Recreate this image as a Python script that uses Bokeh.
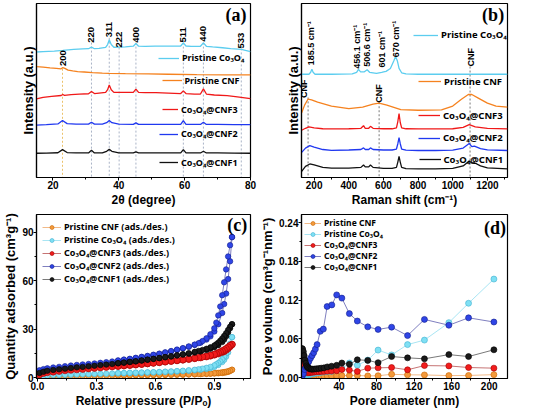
from bokeh.plotting import figure
from bokeh.layouts import gridplot
from bokeh.models import (Range1d, FixedTicker, NumeralTickFormatter, Legend,
                          LegendItem, Label)
from bokeh.core.properties import value
from bokeh.embed import file_html
from bokeh.resources import INLINE

FONT = "Liberation Sans"
LFONT = "Noto Sans"

# ------------------------------------------------------------------ data (a) XRD
xrd_co3o4_x = [15, 17, 20.4, 23, 26.3, 29, 30.8, 31.7, 32.6, 34, 36, 36.6, 37.1, 37.7, 38.5, 40.1, 42,
               44.4, 45.2, 46, 48, 51, 53.8, 56, 58.8, 59.6, 60.4, 62, 64.8, 65.7, 66.6, 68.5, 71.5,
               74, 77.2, 80]
xrd_co3o4_y = [129.3, 129.7, 130.3, 131, 132, 132.5, 132.7, 134.3, 132.7, 133, 134, 137, 142, 137,
               134.2, 134.3, 134.7, 135.3, 138, 135.3, 135.2, 135.3, 135.3, 135.3, 135.5, 138.7, 135.5,
               135.2, 135.2, 138.7, 135.2, 134.5, 133.7, 132.8, 132, 129.7]
xrd_cnf_x = [15, 17, 19.1, 21, 22.5, 23, 23.6, 24.6, 26, 27.5, 29.5, 32, 35, 37.1, 42, 48.9, 55, 63.7, 72, 80]
xrd_cnf_y = [114.3, 113.8, 113, 112.5, 112, 113.2, 112.5, 110.7, 109.8, 109.2, 108.7, 108, 107.5,
             107.3, 107, 106.7, 106.4, 106, 105.8, 105.7]
xrd_cnf3_x = [15, 17, 19.6, 22.5, 23, 23.5, 25.5, 28, 30.8, 31.7, 32.6, 34, 36, 36.6, 37.1, 37.7, 38.5,
              40.1, 42, 44.4, 45.2, 46, 48, 51.3, 55, 58.8, 59.6, 60.4, 63, 64.8, 65.7, 66.6, 69, 72.9, 76, 80]
xrd_cnf3_y = [81, 82.5, 83.5, 84.5, 85.5, 84.7, 85.5, 86, 86.3, 88.7, 86.5, 87, 87.7, 90.5, 95.3, 90.5,
              87.7, 87.7, 87.7, 87.7, 91, 87.7, 87.5, 87.5, 87, 86.5, 89.3, 86.5, 86, 86, 91.3, 86, 85,
              84.3, 83, 81.3]
xrd_cnf12_x = [15, 18, 21.5, 22.9, 24.3, 27, 30.8, 31.7, 32.6, 35, 36.3, 37.1, 37.9, 40, 44.4, 45.2, 46,
               50, 55, 58.8, 59.6, 60.4, 63, 64.8, 65.7, 66.6, 70, 75, 80]
xrd_cnf2_y = [54, 54.5, 55.2, 58.7, 55.5, 55, 55, 57, 55, 55, 56.5, 58.7, 56.5, 55, 54.7, 56.3, 54.7,
              54.7, 54.7, 54.7, 58.7, 54.7, 54.7, 54.7, 57, 54.7, 54.7, 54.5, 54.5]
xrd_cnf1_y = [25, 25.2, 25.5, 28.7, 25.7, 25.3, 25.3, 28, 25.3, 25.3, 27, 29, 27, 25.3, 25.3, 26.3,
              25.3, 25.3, 25.3, 25.3, 28.7, 25.3, 25.3, 25.3, 27, 25.3, 25.3, 25.2, 25]
xrd_hkl = ["200", "220", "311", "222", "400", "511", "440", "533"]
xrd_pos = [22.9, 31.7, 37.1, 40.1, 45.2, 59.6, 65.7, 77.2]
xrd_label_y = [123, 147, 152.5, 142, 147, 147, 148, 141]
xrd_line_top = [112, 139, 144, 134, 139, 139, 139, 133]

# ------------------------------------------------------------------ data (b) Raman
ram_co3o4_x = [127, 170, 180, 187, 194, 205, 300, 420, 445, 456, 468, 490, 506, 520, 560, 590, 601,
               615, 640, 660, 670, 680, 690, 705, 730, 800, 1000, 1316]
ram_co3o4_y = [107, 107, 109, 112.3, 109, 107, 107, 107.3, 109, 112, 109.5, 109.5, 111.7, 109, 108,
               109, 109.5, 110, 113, 121, 125.3, 121, 113, 108.5, 107.3, 107, 107, 107]
ram_cnf_x = [128, 145, 165, 185, 220, 300, 400, 480, 540, 575, 620, 700, 800, 935, 1000, 1050, 1090,
             1110, 1150, 1200, 1250, 1316]
ram_cnf_y = [67, 75, 81.3, 80.5, 78, 74, 71.3, 73, 76, 77, 75, 70.3, 69.7, 70, 74, 81, 86, 86, 82, 77, 74, 73]
ram_cnf3_x = [128, 150, 170, 200, 250, 300, 400, 470, 485, 495, 515, 525, 540, 600, 650, 675, 683, 690,
              697, 705, 730, 800, 900, 1000, 1060, 1095, 1130, 1200, 1316]
ram_cnf3_y = [49, 51, 52.5, 51.5, 50.5, 50.3, 50.5, 51, 53.7, 51, 51, 53, 51, 50.5, 50.5, 51.5, 58,
              66.3, 57, 51.5, 50.5, 50.3, 50.3, 50.5, 52, 54.7, 52.5, 50.8, 50.3]
ram_cnf12_x = [128, 150, 175, 200, 250, 300, 400, 470, 485, 495, 515, 525, 540, 600, 650, 675, 683, 690,
               697, 705, 730, 800, 900, 1000, 1060, 1095, 1110, 1125, 1160, 1200, 1316]
ram_cnf2_y = [26, 30.5, 33, 31.5, 29, 28.2, 28.5, 29, 30.7, 29, 29, 30.7, 29, 28.5, 28.5, 29.5, 35,
              41.3, 35, 29.5, 28.3, 28, 28, 28.3, 30.5, 35.3, 32, 32.5, 30, 28.6, 28]
ram_cnf1_y = [6.3, 11.5, 14, 13, 10.5, 9.8, 9.8, 10.5, 13, 11, 11, 13, 10.5, 9.5, 9.5, 10.5, 16, 22,
              16, 10.5, 9.2, 9, 9, 9.5, 12, 17, 15, 15.3, 12, 10, 9]
ram_labels = ["185.5 cm\u207b\u00b9", "456.1 cm\u207b\u00b9", "506.6 cm\u207b\u00b9", "601 cm\u207b\u00b9",
              "670 cm\u207b\u00b9", "CNF", "CNF", "CNF"]
ram_label_x = [182, 446, 506, 590, 670, 1105, 143, 575]
ram_label_y = [139, 135.5, 137.5, 133, 143.5, 124.5, 92, 87]
ram_cnf_line_x = [165, 575, 1100]
ram_cnf_line_top = [83, 78, 115]

# ------------------------------------------------------------------ data (c) isotherms
p_ads = [0.01, 0.03, 0.05, 0.08, 0.11, 0.14, 0.17, 0.20, 0.23, 0.26, 0.29, 0.32, 0.35, 0.38, 0.41,
         0.44, 0.47, 0.50, 0.53, 0.56, 0.59, 0.62, 0.65, 0.68, 0.71, 0.74, 0.77, 0.80, 0.83, 0.86,
         0.88, 0.90, 0.92, 0.94, 0.95, 0.96, 0.97, 0.98, 0.99]
p_des = [0.99, 0.98, 0.97, 0.96, 0.95, 0.94, 0.93, 0.92, 0.91, 0.90, 0.88, 0.86, 0.84, 0.82, 0.80,
         0.77, 0.74, 0.71, 0.68, 0.65, 0.62, 0.59, 0.56, 0.53, 0.50, 0.47, 0.44, 0.41]
q_cnf_ads = [0.2, 0.4, 0.5, 0.6, 0.7, 0.75, 0.8, 0.85, 0.9, 0.95, 1.0, 1.05, 1.1, 1.15, 1.2, 1.25, 1.3,
             1.35, 1.4, 1.45, 1.5, 1.55, 1.6, 1.7, 1.75, 1.8, 1.9, 2.0, 2.1, 2.2, 2.3, 2.45, 2.6, 2.8,
             3.0, 3.2, 3.5, 4.0, 4.8]
q_cnf_des = [4.8, 4.3, 3.9, 3.6, 3.4, 3.2, 3.0, 2.9, 2.8, 2.7, 2.5, 2.4, 2.3, 2.2, 2.1, 2.0, 1.9, 1.85,
             1.8, 1.75, 1.7, 1.65, 1.6, 1.55, 1.5, 1.45, 1.4, 1.35]
q_co3o4_ads = [0.8, 1.1, 1.3, 1.5, 1.6, 1.7, 1.8, 1.9, 2.0, 2.1, 2.2, 2.3, 2.4, 2.5, 2.6, 2.7, 2.8, 2.9,
               3.0, 3.1, 3.2, 3.3, 3.5, 3.6, 3.8, 4.0, 4.2, 4.5, 4.8, 5.3, 5.8, 6.6, 7.8, 9.6, 11.0,
               13.0, 15.5, 19.0, 25.0]
q_co3o4_des = [25.0, 21.0, 17.5, 15.0, 13.0, 11.3, 10.0, 9.0, 8.2, 7.5, 6.6, 6.0, 5.5, 5.1, 4.8, 4.5,
               4.2, 4.0, 3.8, 3.6, 3.4, 3.3, 3.2, 3.1, 3.0, 2.9, 2.8, 2.7]
q_cnf3_ads = [1.8, 2.6, 3.1, 3.5, 3.9, 4.3, 4.6, 4.9, 5.2, 5.5, 5.8, 6.1, 6.4, 6.7, 7.0, 7.3, 7.6, 7.9,
              8.3, 8.6, 9.0, 9.3, 9.7, 10.1, 10.5, 10.9, 11.3, 11.8, 12.3, 12.9, 13.4, 14.0, 14.7,
              15.6, 16.2, 17.0, 18.0, 19.2, 20.5]
q_cnf3_des = [20.5, 19.8, 18.8, 17.9, 17.1, 16.4, 15.8, 15.3, 14.8, 14.4, 13.8, 13.2, 12.8, 12.4, 12.0,
              11.5, 11.0, 10.6, 10.2, 9.8, 9.4, 9.0, 8.7, 8.3, 8.0, 7.7, 7.4, 7.1]
q_cnf2_ads = [4.5, 5.2, 5.7, 6.2, 6.6, 7.0, 7.4, 7.8, 8.1, 8.4, 8.7, 9.1, 9.5, 9.9, 10.4, 10.9, 11.4,
              12.0, 12.6, 13.2, 13.9, 14.6, 15.3, 16.1, 17.0, 18.0, 19.0, 20.2, 21.6, 23.5, 25.5, 28.5,
              33.0, 40.0, 45.5, 52.0, 61.0, 72.0, 87.0]
q_cnf2_des = [87.0, 82.0, 75.0, 67.0, 59.0, 51.0, 44.0, 38.5, 34.0, 30.5, 26.8, 24.3, 22.6, 21.3, 20.4,
              19.3, 18.2, 17.3, 16.4, 15.6, 14.8, 14.1, 13.4, 12.8, 12.2, 11.6, 11.1, 10.6]
q_cnf1_ads = [2.8, 3.6, 4.2, 4.7, 5.1, 5.5, 5.9, 6.3, 6.6, 7.0, 7.3, 7.7, 8.0, 8.4, 8.8, 9.2, 9.6, 10.0,
              10.5, 11.0, 11.5, 12.0, 12.5, 13.0, 13.6, 14.2, 14.8, 15.5, 16.2, 17.1, 17.8, 18.8, 20.0,
              22.0, 23.5, 25.5, 28.0, 30.5, 33.0]
q_cnf1_des = [33.0, 31.5, 29.5, 27.5, 25.8, 24.2, 22.8, 21.6, 20.6, 19.8, 18.7, 17.8, 17.1, 16.5, 15.9,
              15.1, 14.4, 13.8, 13.2, 12.7, 12.1, 11.6, 11.1, 10.6, 10.1, 9.7, 9.3, 8.9]

# ------------------------------------------------------------------ data (d) pore size distribution
d_pore = [0.5, 1.2, 2.0, 2.8, 3.6, 4.5, 5.5, 6.5, 7.7, 9.0, 10.5, 12.0, 14.0, 16.0, 18.5, 21.0, 24.0,
          27.5, 32.0, 37.5, 43.0, 51.0, 59.5, 70.6, 81.6, 96.0, 113.0, 131.0, 157.0, 178.0, 205.0]
v_cnf = [0.001, 0.001, 0.0012, 0.0014, 0.0015, 0.0016, 0.0017, 0.0018, 0.0019, 0.002, 0.002, 0.002,
         0.0021, 0.0022, 0.0022, 0.0023, 0.0024, 0.0025, 0.0026, 0.0028, 0.003, 0.003, 0.0032, 0.0025,
         0.0028, 0.005, 0.0042, 0.004, 0.003, 0.0032, 0.0045]
v_co3o4 = [0.0005, 0.001, 0.0015, 0.002, 0.0025, 0.003, 0.0035, 0.004, 0.0045, 0.005, 0.0055, 0.006,
           0.0065, 0.007, 0.0075, 0.008, 0.0085, 0.009, 0.0095, 0.0115, 0.014, 0.0225, 0.019, 0.027,
           0.0425, 0.035, 0.051, 0.058, 0.085, 0.115, 0.1525]
v_cnf3 = [0.033, 0.031, 0.026, 0.020, 0.014, 0.010, 0.0085, 0.0075, 0.0075, 0.0078, 0.008, 0.0082,
          0.0085, 0.0088, 0.009, 0.0092, 0.0095, 0.0098, 0.010, 0.0105, 0.0125, 0.0115, 0.0095, 0.0145,
          0.015, 0.0155, 0.012, 0.0185, 0.018, 0.0155, 0.0145]
v_cnf1 = [0.045, 0.044, 0.040, 0.034, 0.027, 0.022, 0.018, 0.016, 0.0145, 0.0135, 0.013, 0.013, 0.0132,
          0.0135, 0.014, 0.0145, 0.015, 0.0165, 0.0175, 0.019, 0.0225, 0.0205, 0.0275, 0.0265, 0.023,
          0.0325, 0.0305, 0.029, 0.0355, 0.0325, 0.043]
d_pore_cnf2 = [0.8, 2.0, 3.3, 4.7, 6.3, 7.9, 9.6, 11.3, 13.0, 14.8, 16.6, 20.0, 23.3, 27.3, 32.3, 37.5,
               43.0, 51.0, 59.5, 70.6, 81.6, 96.0, 113.0, 131.0, 157.0, 178.0, 205.0]
v_cnf2 = [0.002, 0.006, 0.0125, 0.016, 0.020, 0.025, 0.030, 0.034, 0.0385, 0.044, 0.051, 0.0715, 0.075,
          0.110, 0.1125, 0.128, 0.123, 0.099, 0.0875, 0.0785, 0.0745, 0.078, 0.065, 0.090, 0.081,
          0.0925, 0.086]

names = ["Pristine Co\u2083O\u2084", "Pristine CNF", "Co\u2083O\u2084@CNF3", "Co\u2083O\u2084@CNF2",
         "Co\u2083O\u2084@CNF1"]

C_CYAN, C_ORANGE, C_RED, C_BLUE, C_BLACK = "#5ccdef", "#f5821f", "#f01818", "#2038f0", "#111111"


def base_fig(w, h, bl, br, bt, bb, xr, yr, xlabel, ylabel):
    p = figure(width=w, height=h, x_range=Range1d(*xr), y_range=Range1d(*yr),
               output_backend="svg", toolbar_location=None,
               min_border_left=bl, min_border_right=br, min_border_top=bt, min_border_bottom=bb)
    p.xgrid.visible = False
    p.ygrid.visible = False
    p.outline_line_color = "black"
    p.outline_line_width = 1.2
    p.outline_line_alpha = 1.0
    p.background_fill_color = "white"
    p.border_fill_color = "white"
    for ax, lab, fs in ((p.xaxis[0], xlabel, "12px"), (p.yaxis[0], ylabel, "13px")):
        ax.axis_label = lab
        ax.axis_line_color = "black"
        ax.axis_line_width = 1.2
        ax.major_tick_in = 0
        ax.major_tick_out = 3
        ax.minor_tick_in = 0
        ax.minor_tick_out = 2
        ax.major_tick_line_color = "black"
        ax.minor_tick_line_color = "black"
        ax.major_label_text_font = FONT
        ax.major_label_text_font_style = "bold"
        ax.major_label_text_font_size = "10px"
        ax.major_label_text_color = "black"
        ax.axis_label_text_font = FONT
        ax.axis_label_text_font_style = "bold"
        ax.axis_label_text_font_size = fs
        ax.axis_label_text_color = "black"
        ax.major_label_standoff = 0
        ax.axis_label_standoff = 1
    return p


def item_legend(p, label, rends, x, y, gw, fs):
    lg = Legend(items=[LegendItem(label=value(label), renderers=rends)], location=(x, y),
                glyph_width=gw, glyph_height=10, label_height=10, label_standoff=3,
                padding=0, margin=0, spacing=0, border_line_color=None,
                background_fill_alpha=0, label_text_font=LFONT, label_text_font_style="bold",
                label_text_font_size=fs, label_text_color="black")
    p.add_layout(lg)


def panel_tag(p, x, y, t):
    p.add_layout(Label(x=x, y=y, text=t, text_font="Liberation Serif", text_font_style="bold",
                       text_font_size="18px", text_align="center", text_baseline="middle",
                       text_color="black"))


# ------------------------------------------------------------------ (a)
pa = base_fig(257, 209, 36, 7, 3, 29, (15, 80), (0, 179.3), "2\u03b8 (degree)", "Intensity (a.u.)")
pa.xaxis[0].ticker = FixedTicker(ticks=[20, 40, 60, 80], minor_ticks=[30, 50, 70])
pa.yaxis[0].ticker = FixedTicker(ticks=[], minor_ticks=[])
pa.segment(x0=xrd_pos[:1], y0=xrd_line_top[:1], x1=xrd_pos[:1], y1=[0], line_color="#ecc26a",
           line_dash="2 2", line_width=1)
pa.segment(x0=xrd_pos[1:], y0=xrd_line_top[1:], x1=xrd_pos[1:], y1=[0] * 7, line_color="#a9b3c6",
           line_dash="2 2", line_width=1)
ra_co = pa.line(xrd_co3o4_x, xrd_co3o4_y, line_color=C_CYAN, line_width=1.3)
ra_cnf = pa.line(xrd_cnf_x, xrd_cnf_y, line_color=C_ORANGE, line_width=1.3)
ra_3 = pa.line(xrd_cnf3_x, xrd_cnf3_y, line_color=C_RED, line_width=1.3)
ra_2 = pa.line(xrd_cnf12_x, xrd_cnf2_y, line_color=C_BLUE, line_width=1.3)
ra_1 = pa.line(xrd_cnf12_x, xrd_cnf1_y, line_color=C_BLACK, line_width=1.3)
pa.text(x=xrd_pos, y=xrd_label_y, text=xrd_hkl, angle=1.5708, text_align="center",
        text_baseline="middle", text_font=value(FONT), text_font_style="bold",
        text_font_size="9.5px", text_color="black")
item_legend(pa, names[0], [ra_co], 122, 113, 21, "9px")
item_legend(pa, names[1], [ra_cnf], 125.5, 90.5, 20, "9px")
item_legend(pa, names[2], [ra_3], 126, 61.5, 16, "9px")
item_legend(pa, names[3], [ra_2], 123, 37, 19, "9px")
item_legend(pa, names[4], [ra_1], 123, 8.5, 19, "9px")
panel_tag(pa, 75.6, 167, "(a)")

# ------------------------------------------------------------------ (b)
pb = base_fig(260, 209, 39, 10, 3, 29, (127, 1316), (0, 180.3), "Raman shift (cm\u207b\u00b9)",
              "Intensity (a.u.)")
pb.xaxis[0].ticker = FixedTicker(ticks=[200, 400, 600, 800, 1000, 1200],
                                 minor_ticks=[300, 500, 700, 900, 1100, 1300])
pb.yaxis[0].ticker = FixedTicker(ticks=[], minor_ticks=[])
pb.segment(x0=ram_cnf_line_x, y0=ram_cnf_line_top, x1=ram_cnf_line_x, y1=[0, 0, 0],
           line_color="#7a7a7a", line_dash="2 2", line_width=1)
rb_co = pb.line(ram_co3o4_x, ram_co3o4_y, line_color=C_CYAN, line_width=1.3)
rb_cnf = pb.line(ram_cnf_x, ram_cnf_y, line_color=C_ORANGE, line_width=1.3)
rb_3 = pb.line(ram_cnf3_x, ram_cnf3_y, line_color=C_RED, line_width=1.3)
rb_2 = pb.line(ram_cnf12_x, ram_cnf2_y, line_color=C_BLUE, line_width=1.3)
rb_1 = pb.line(ram_cnf12_x, ram_cnf1_y, line_color=C_BLACK, line_width=1.3)
pb.text(x=ram_label_x, y=ram_label_y, text=ram_labels, angle=1.5708, text_align="center",
        text_baseline="middle", text_font=value(FONT), text_font_style="bold",
        text_font_size="9px", text_color="black")
item_legend(pb, names[0], [rb_co], 112, 136, 25, "9.5px")
item_legend(pb, names[1], [rb_cnf], 117, 89.5, 23, "9.5px")
item_legend(pb, names[2], [rb_3], 117, 55.5, 22, "9.5px")
item_legend(pb, names[3], [rb_2], 117, 33, 22, "9.5px")
item_legend(pb, names[4], [rb_1], 117.5, 11.5, 22, "9.5px")
panel_tag(pb, 1233, 168, "(b)")

# ------------------------------------------------------------------ (c)
pc = base_fig(257, 201, 36, 7, 5, 29, (-0.005, 1.084), (-0.6, 101),
              "Relative pressure (P/P\u2092)", "Quantity adsorbed (cm\u00b3g\u207b\u00b9)")
pc.xaxis[0].ticker = FixedTicker(ticks=[0, 0.3, 0.6, 0.9], minor_ticks=[0.15, 0.45, 0.75, 1.05])
pc.xaxis[0].formatter = NumeralTickFormatter(format="0.0")
pc.yaxis[0].ticker = FixedTicker(ticks=[0, 30, 60, 90], minor_ticks=[15, 45, 75])

iso = [
    ("Pristine CNF (ads./des.)", q_cnf_ads, q_cnf_des, "#f39a3c", "#c76400", "#f1b27a", 5.5),
    ("Pristine Co\u2083O\u2084 (ads./des.)", q_co3o4_ads, q_co3o4_des, "#7fe0f4", "#3fb0d0", "#9fe2f2", 5.5),
    ("Co\u2083O\u2084@CNF3 (ads./des.)", q_cnf3_ads, q_cnf3_des, "#f21c1c", "#a00000", "#c06464", 6.5),
    ("Co\u2083O\u2084@CNF2 (ads./des.)", q_cnf2_ads, q_cnf2_des, "#2f45e6", "#101c8c", "#7070b8", 5.5),
    ("Co\u2083O\u2084@CNF1 (ads./des.)", q_cnf1_ads, q_cnf1_des, "#1a1a1a", "#000000", "#6a6a6a", 5.5),
]
items_c = []
for lab, qa, qd, fc, ec, lc, sz in iso:
    la = pc.line(p_ads, qa, line_color=lc, line_width=0.9)
    pc.line(p_des, qd, line_color=lc, line_width=0.9)
    sa = pc.scatter(p_ads, qa, size=sz, fill_color=fc, line_color=ec, line_width=0.6)
    pc.scatter(p_des, qd, size=sz, fill_color=fc, line_color=ec, line_width=0.6)
    items_c.append(LegendItem(label=value(lab), renderers=[la, sa]))
pc.add_layout(Legend(items=items_c, location="top_left", glyph_width=19, glyph_height=10,
                     label_height=10, label_standoff=3, padding=0, margin=6, spacing=0,
                     border_line_color=None, background_fill_alpha=0, label_text_font=LFONT,
                     label_text_font_style="bold", label_text_font_size="9px",
                     label_text_color="black"))
panel_tag(pc, 1.017, 94.4, "(c)")

# ------------------------------------------------------------------ (d)
pd_ = base_fig(260, 201, 39, 10, 5, 29, (0, 219.5), (-0.0015, 0.2525), "Pore diameter (nm)",
               "Pore volume (cm\u00b3g\u207b\u00b9nm\u207b\u00b9)")
pd_.xaxis[0].ticker = FixedTicker(ticks=[40, 80, 120, 160, 200], minor_ticks=[20, 60, 100, 140, 180])
pd_.yaxis[0].ticker = FixedTicker(ticks=[0, 0.06, 0.12, 0.18, 0.24],
                                  minor_ticks=[0.03, 0.09, 0.15, 0.21])
pd_.yaxis[0].formatter = NumeralTickFormatter(format="0.00")

psd = [
    (names[1], d_pore, v_cnf, "#f39a3c", "#c76400", "#f1b27a"),
    (names[0], d_pore, v_co3o4, "#7fe0f4", "#3fb0d0", "#9fe2f2"),
    (names[2], d_pore, v_cnf3, "#f21c1c", "#a00000", "#c06464"),
    (names[3], d_pore_cnf2, v_cnf2, "#2f45e6", "#101c8c", "#7070b8"),
    (names[4], d_pore, v_cnf1, "#1a1a1a", "#000000", "#6a6a6a"),
]
items_d = []
for lab, xs, ys, fc, ec, lc in psd:
    ln = pd_.line(xs, ys, line_color=lc, line_width=0.9)
    sc = pd_.scatter(xs, ys, size=6, fill_color=fc, line_color=ec, line_width=0.6)
    items_d.append(LegendItem(label=value(lab), renderers=[ln, sc]))
pd_.add_layout(Legend(items=items_d, location="top_left", glyph_width=17, glyph_height=10,
                      label_height=10, label_standoff=3, padding=0, margin=3, spacing=0,
                      border_line_color=None, background_fill_alpha=0, label_text_font=LFONT,
                      label_text_font_style="bold", label_text_font_size="8.5px",
                      label_text_color="black"))
panel_tag(pd_, 206.3, 0.232, "(d)")

grid = gridplot([[pa, pb], [pc, pd_]], toolbar_location=None)
open("out.html", "w").write(file_html(grid, INLINE))
